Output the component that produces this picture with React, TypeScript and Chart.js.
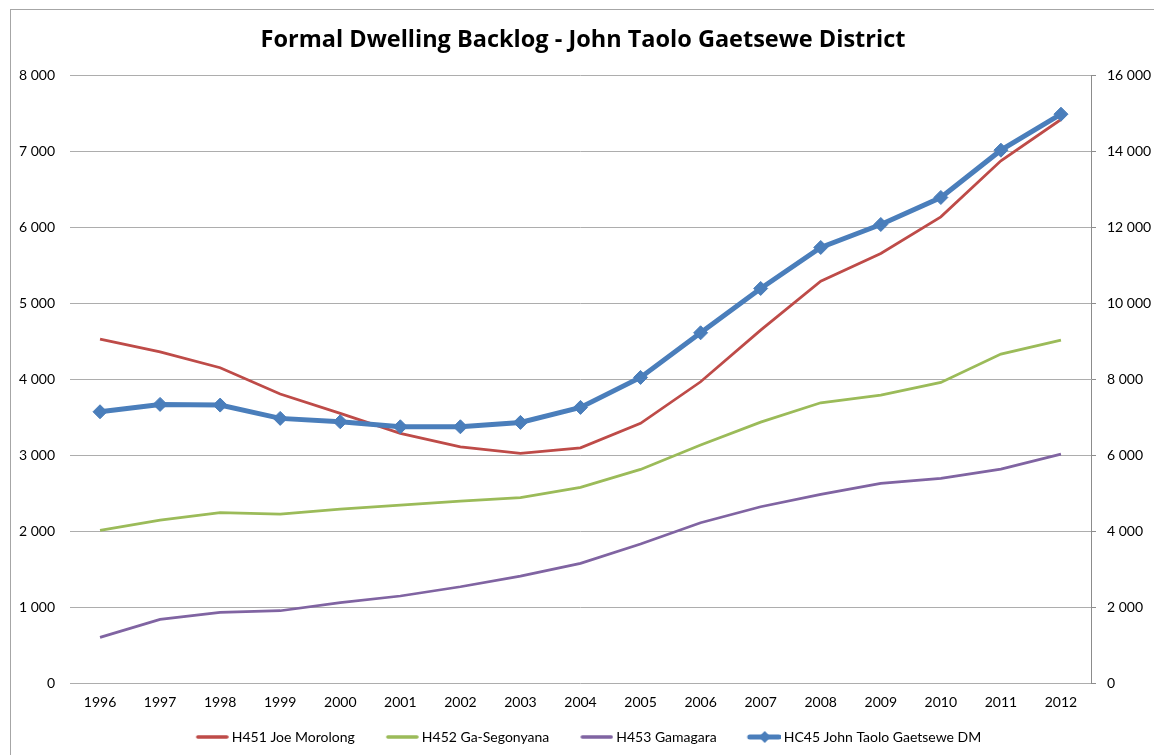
import React, { useEffect, useRef } from 'react';
import { Chart, registerables } from 'chart.js';

Chart.register(...registerables);

// ---- data ----
const years = ['1996', '1997', '1998', '1999', '2000', '2001', '2002', '2003', '2004', '2005', '2006', '2007', '2008', '2009', '2010', '2011', '2012'];
const joeMorolong = [4526, 4359, 4149, 3803, 3549, 3286, 3109, 3022, 3096, 3417, 3965, 4645, 5289, 5654, 6136, 6873, 7417];
const gaSegonyana = [2010, 2145, 2241, 2224, 2289, 2342, 2395, 2439, 2575, 2811, 3132, 3434, 3688, 3789, 3956, 4329, 4513];
const gamagara = [601, 838, 930, 951, 1057, 1145, 1267, 1408, 1575, 1829, 2110, 2320, 2482, 2627, 2693, 2816, 3013];
const districtTotal = [7140, 7334, 7316, 6966, 6877, 6745, 6745, 6860, 7255, 8044, 9219, 10386, 11465, 12070, 12781, 14026, 14974];

const seriesNames = ['H451 Joe Morolong', 'H452 Ga-Segonyana', 'H453 Gamagara', 'HC45 John Taolo Gaetsewe DM'];
const titleText = 'Formal Dwelling Backlog - John Taolo Gaetsewe District';

const RED = '#BE4B48';
const GREEN = '#9BBB59';
const PURPLE = '#8064A2';
const BLUE = '#4A7EBB';
const FONT = 'Lato, "Open Sans", sans-serif';
const TITLE_FONT = '"Open Sans", Lato, sans-serif';

const fmt = (v: number | string) => String(v).replace(/\B(?=(\d{3})+(?!\d))/g, ' ');

// legend marker: image 48 wide, line in its right 32 px
function makeMarker(color: string, lw: number, diamond: boolean): HTMLCanvasElement {
  const c = document.createElement('canvas');
  c.width = 48;
  c.height = 16;
  const ctx = c.getContext('2d')!;
  ctx.strokeStyle = color;
  ctx.lineWidth = lw;
  ctx.lineCap = 'round';
  ctx.beginPath();
  ctx.moveTo(17, 8);
  ctx.lineTo(46, 8);
  ctx.stroke();
  if (diamond) {
    ctx.fillStyle = color;
    ctx.beginPath();
    ctx.moveTo(32, 2);
    ctx.lineTo(38, 8);
    ctx.lineTo(32, 14);
    ctx.lineTo(26, 8);
    ctx.closePath();
    ctx.fill();
  }
  return c;
}

const framePlugin = {
  id: 'frame',
  beforeDraw(chart: any) {
    const { ctx, width, height } = chart;
    ctx.save();
    ctx.fillStyle = '#ffffff';
    ctx.fillRect(0, 0, width, height);
    ctx.strokeStyle = '#a6a6a6';
    ctx.lineWidth = 1;
    ctx.strokeRect(10.5, 9.5, width - 21, height + 20);
    ctx.restore();
  },
};

export default function App() {
  const ref = useRef<HTMLCanvasElement | null>(null);

  useEffect(() => {
    if (!ref.current) return;
    const markers = [
      makeMarker(RED, 3.5, false),
      makeMarker(GREEN, 3.5, false),
      makeMarker(PURPLE, 3.5, false),
      makeMarker(BLUE, 5, true),
    ];
    const chart = new Chart(ref.current, {
      type: 'line',
      data: {
        labels: years,
        datasets: [
          { label: seriesNames[0], data: joeMorolong, borderColor: RED, backgroundColor: RED, borderWidth: 2.75, pointRadius: 0, yAxisID: 'y', order: 2, tension: 0 },
          { label: seriesNames[1], data: gaSegonyana, borderColor: GREEN, backgroundColor: GREEN, borderWidth: 2.75, pointRadius: 0, yAxisID: 'y', order: 3, tension: 0 },
          { label: seriesNames[2], data: gamagara, borderColor: PURPLE, backgroundColor: PURPLE, borderWidth: 2.75, pointRadius: 0, yAxisID: 'y', order: 4, tension: 0 },
          {
            label: seriesNames[3], data: districtTotal, borderColor: BLUE, backgroundColor: BLUE, borderWidth: 5,
            pointStyle: 'rectRot', pointRadius: 7, pointBorderWidth: 1, pointBackgroundColor: BLUE, pointBorderColor: BLUE,
            yAxisID: 'y1', order: 1, tension: 0,
          },
        ],
      },
      options: {
        animation: false,
        responsive: false,
        devicePixelRatio: 1,
        layout: { padding: { left: 0, right: 10, top: 0, bottom: 1 } },
        plugins: {
          title: {
            display: true,
            text: titleText,
            color: '#000',
            font: { family: TITLE_FONT, size: 23.5, weight: 'bold' },
            padding: { top: 26, bottom: 21 },
          },
          legend: {
            position: 'bottom',
            labels: {
              color: '#000',
              font: { family: FONT, size: 14 },
              usePointStyle: true,
              pointStyleWidth: 40,
              padding: 20,
              sort: (a: any, b: any) => a.datasetIndex - b.datasetIndex,
              generateLabels: (c: any) => {
                const items = Chart.defaults.plugins.legend.labels.generateLabels(c);
                return items.map((it: any) => ({ ...it, pointStyle: markers[it.datasetIndex] }));
              },
            },
          },
          tooltip: { enabled: false },
        },
        scales: {
          x: {
            type: 'category',
            offset: true,
            grid: { display: false, drawTicks: false },
            border: { display: false },
            ticks: { color: '#000', font: { family: FONT, size: 14 }, padding: 11, maxRotation: 0, autoSkip: false },
            afterFit: (s: any) => { s.height = 27; },
          },
          y: {
            position: 'left',
            min: 0,
            max: 8000,
            grid: { color: '#adadad', lineWidth: 1, drawTicks: false },
            border: { display: false },
            ticks: { stepSize: 1000, color: '#000', font: { family: FONT, size: 14 }, padding: 15, callback: (v: any) => fmt(v) },
            afterFit: (s: any) => { s.width = 70; },
          },
          y1: {
            position: 'right',
            min: 0,
            max: 16000,
            grid: { drawOnChartArea: false, drawTicks: true, tickLength: 5, color: '#8c8c8c' },
            border: { display: true, color: '#8c8c8c' },
            ticks: { stepSize: 2000, color: '#000', font: { family: FONT, size: 14 }, padding: 11, callback: (v: any) => fmt(v) },
            afterFit: (s: any) => { s.width = 75; },
          },
        },
      },
      plugins: [framePlugin],
    } as any);
    return () => chart.destroy();
  }, []);

  return (
    <div style={{ position: 'absolute', left: 0, top: 0, width: 1154, height: 755, overflow: 'hidden', background: '#fff' }}>
      <canvas ref={ref} width={1176} height={755} style={{ display: 'block' }} />
    </div>
  );
}
